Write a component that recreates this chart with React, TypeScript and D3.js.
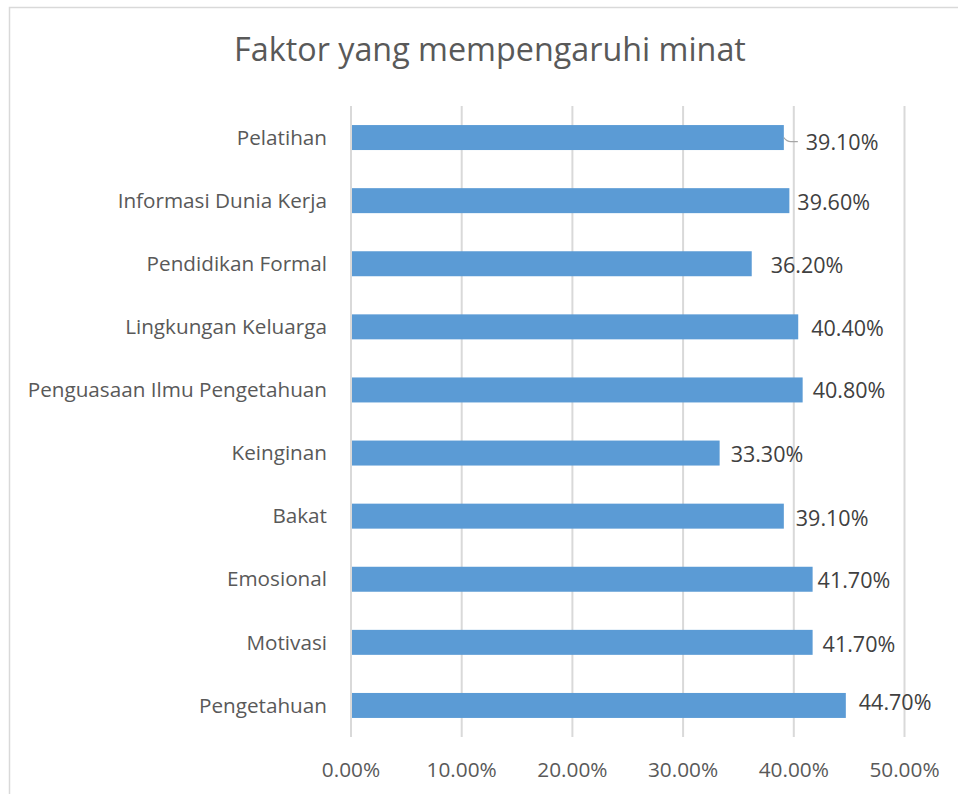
import React, { useEffect, useRef } from "react";
import * as d3 from "d3";

const categories = [
  "Pelatihan",
  "Informasi Dunia Kerja",
  "Pendidikan Formal",
  "Lingkungan Keluarga",
  "Penguasaan Ilmu Pengetahuan",
  "Keinginan",
  "Bakat",
  "Emosional",
  "Motivasi",
  "Pengetahuan",
];
const values = [0.391, 0.396, 0.362, 0.404, 0.408, 0.333, 0.391, 0.417, 0.417, 0.447];
const tickValues = [0, 0.1, 0.2, 0.3, 0.4, 0.5];
const title = "Faktor yang mempengaruhi minat";

// layout-only nudges of the data labels (px), as placed in the original
const labelDx = [22, 8, 19, 13, 10, 11, 12, 5, 10, 13];
const labelDy = [5, 1.5, 1.5, 2, 1, 1, 2, 1.5, 2, -2.5];

const W = 958;
const H = 794;
const FONT = "'Open Sans', 'Noto Sans', sans-serif";
const TEXT = "#595959";
const GRID = "#D9D9D9";
const BAR = "#5B9BD5";

export default function App() {
  const ref = useRef<SVGSVGElement | null>(null);

  useEffect(() => {
    const svg = d3.select(ref.current);
    svg.selectAll("*").remove();

    const x = d3.scaleLinear().domain([0, 0.5]).range([351, 904.5]);
    const y = d3
      .scaleBand<string>()
      .domain(categories)
      .range([106, 737])
      .paddingInner(0.604)
      .paddingOuter(0.302);

    // chart border
    svg
      .append("path")
      .attr("d", `M9.5,${H} L9.5,7.5 L${W},7.5`)
      .attr("fill", "none")
      .attr("stroke", GRID)
      .attr("stroke-width", 1.5);

    // title
    svg
      .append("text")
      .attr("x", 490)
      .attr("y", 61)
      .attr("text-anchor", "middle")
      .attr("font-family", FONT)
      .attr("font-size", 32.3)
      .attr("fill", TEXT)
      .text(title);

    // gridlines
    svg
      .append("g")
      .selectAll("line")
      .data(tickValues)
      .join("line")
      .attr("x1", (d) => x(d))
      .attr("x2", (d) => x(d))
      .attr("y1", 106)
      .attr("y2", 737)
      .attr("stroke", GRID)
      .attr("stroke-width", 2);

    // tick labels
    svg
      .append("g")
      .selectAll("text")
      .data(tickValues)
      .join("text")
      .attr("x", (d) => x(d))
      .attr("y", 776.5)
      .attr("text-anchor", "middle")
      .attr("font-family", FONT)
      .attr("font-size", 20.8)
      .attr("fill", TEXT)
      .text((d) => d3.format(".2%")(d));

    // bars
    svg
      .append("g")
      .selectAll("rect")
      .data(categories)
      .join("rect")
      .attr("x", x(0) + 1)
      .attr("y", (d) => y(d)!)
      .attr("width", (d, i) => x(values[i]) - x(0) - 1)
      .attr("height", y.bandwidth())
      .attr("fill", BAR);

    // category labels
    svg
      .append("g")
      .selectAll("text")
      .data(categories)
      .join("text")
      .attr("x", 327)
      .attr("y", (d) => y(d)! + y.bandwidth() / 2)
      .attr("dy", "0.35em")
      .attr("text-anchor", "end")
      .attr("font-family", FONT)
      .attr("font-size", 20.7)
      .attr("fill", TEXT)
      .text((d) => d);

    // leader line for first label
    const x0 = x(values[0]);
    const yc0 = y(categories[0])! + y.bandwidth() / 2;
    svg
      .append("path")
      .attr("d", `M${x0},${yc0} Q${x0 + 3},${yc0 + 4} ${x0 + 7},${yc0 + 4} L${x0 + 14},${yc0 + 4}`)
      .attr("fill", "none")
      .attr("stroke", "#A6A6A6")
      .attr("stroke-width", 1.2);

    // data labels
    svg
      .append("g")
      .selectAll("text")
      .data(categories)
      .join("text")
      .attr("x", (d, i) => x(values[i]) + labelDx[i])
      .attr("y", (d, i) => y(d)! + y.bandwidth() / 2 + labelDy[i])
      .attr("dy", "0.35em")
      .attr("font-family", FONT)
      .attr("font-size", 21.5)
      .attr("fill", "#404040")
      .text((d, i) => d3.format(".2%")(values[i]));
  }, []);

  return (
    <svg
      ref={ref}
      width={W}
      height={H}
      style={{ position: "absolute", left: 0, top: 0, background: "#fff" }}
    />
  );
}
